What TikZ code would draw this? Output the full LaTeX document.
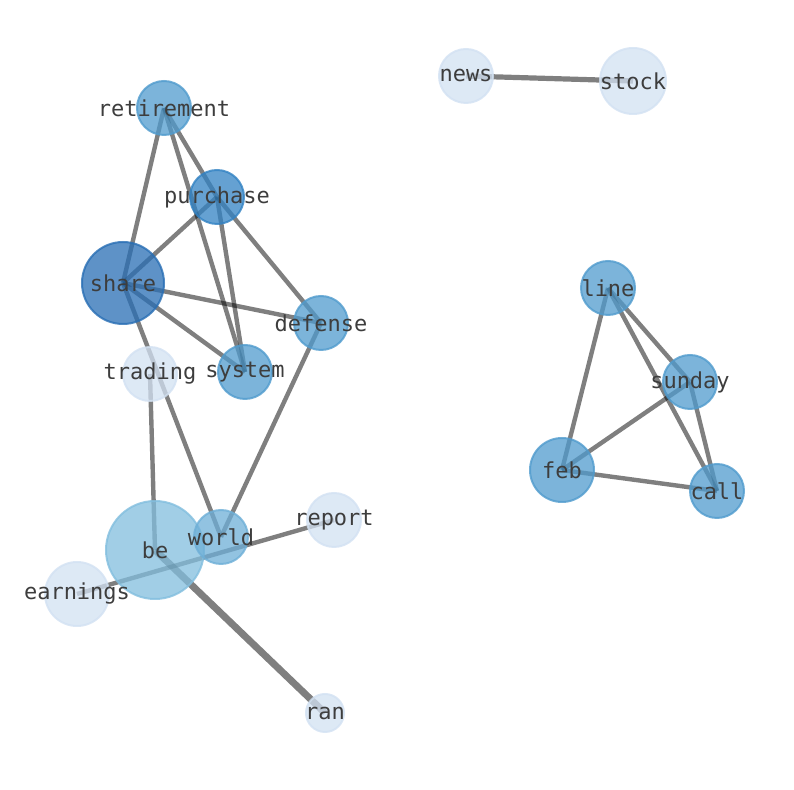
\documentclass[tikz,border=0pt]{standalone}
\usepackage{fontspec}
\setmonofont{DejaVu Sans Mono}
\usetikzlibrary{backgrounds}

\definecolor{cshare}{RGB}{40,110,180}
\definecolor{cpurch}{RGB}{50,130,195}
\definecolor{cmid}{RGB}{80,155,205}
\definecolor{cworld}{RGB}{110,175,215}
\definecolor{cbe}{RGB}{130,190,222}
\definecolor{clight}{RGB}{210,225,242}

\begin{document}
\begin{tikzpicture}[
  x=0.5pt, y=-0.5pt,
  wordnode/.style={circle, inner sep=0pt, line width=1pt, draw=#1, fill=#1,
    fill opacity=0.75, draw opacity=0.8},
  wordtext/.style={inner sep=0pt, text=black!76, font=\ttfamily\fontsize{11}{13}\selectfont},
  link/.style={draw=black, draw opacity=0.5, line width=2.2pt}
]
\useasboundingbox (0,0) rectangle (794,790);

% words of the first group
\node[wordnode=cmid, minimum size=27pt, label={[wordtext]center:retirement}] (retirement) at (164,108) {};
\node[wordnode=cpurch, minimum size=27pt, label={[wordtext]center:purchase}] (purchase) at (217,197) {};
\node[wordnode=cshare, minimum size=41pt, label={[wordtext]center:share}] (share) at (123,283) {};
\node[wordnode=cmid, minimum size=27pt, label={[wordtext]center:defense}] (defense) at (321,323) {};
\node[wordnode=cmid, minimum size=27pt, label={[wordtext]center:system}] (system) at (245,372) {};
\node[wordnode=clight, minimum size=27pt, label={[wordtext]center:trading}] (trading) at (150,374) {};
\node[wordnode=cbe, minimum size=49pt, label={[wordtext]center:be}] (be) at (155,550) {};
\node[wordnode=cworld, minimum size=27pt, label={[wordtext]center:world}] (world) at (221,537) {};
\node[wordnode=clight, minimum size=27pt, label={[wordtext]center:report}] (report) at (334,520) {};
\node[wordnode=clight, minimum size=32pt, label={[wordtext]center:earnings}] (earnings) at (77,594) {};
\node[wordnode=clight, minimum size=19pt, label={[wordtext]center:ran}] (ran) at (325,713) {};

% words of the other groups
\node[wordnode=clight, minimum size=27pt, label={[wordtext]center:news}] (news) at (466,76) {};
\node[wordnode=clight, minimum size=33pt, label={[wordtext]center:stock}] (stock) at (633,81) {};
\node[wordnode=cmid, minimum size=27pt, label={[wordtext]center:line}] (line) at (608,288) {};
\node[wordnode=cmid, minimum size=27pt, label={[wordtext]center:sunday}] (sunday) at (690,382) {};
\node[wordnode=cmid, minimum size=32pt, label={[wordtext]center:feb}] (feb) at (562,470) {};
\node[wordnode=cmid, minimum size=27pt, label={[wordtext]center:call}] (call) at (717,491) {};

% links go under the words
\begin{scope}[on background layer]
\foreach \a/\b in {retirement/share, retirement/purchase, retirement/system,
    purchase/share, purchase/system, purchase/defense, share/defense,
    share/system, share/world, trading/be, defense/world, earnings/report,
    line/feb, line/sunday, line/call, sunday/feb, sunday/call, feb/call}
  \draw[link] (\a.center) -- (\b.center);
\draw[link, line width=3.5pt] (be.center) -- (ran.center);
\draw[link, line width=2.6pt] (news.center) -- (stock.center);
\end{scope}

\end{tikzpicture}
\end{document}
